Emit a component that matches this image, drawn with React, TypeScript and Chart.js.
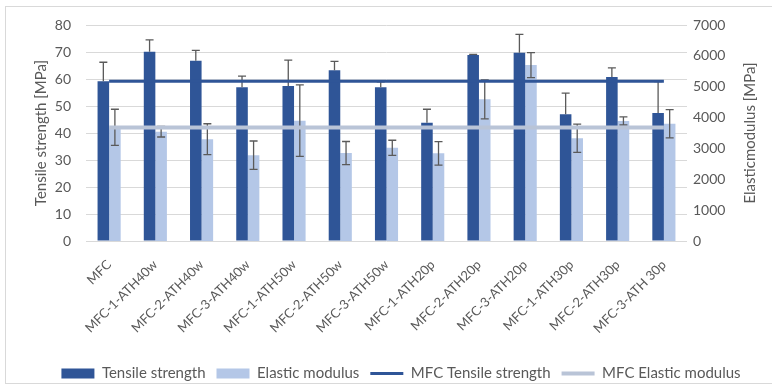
import React, { useEffect, useRef } from "react";
import { Chart, registerables } from "chart.js";

Chart.register(...registerables);

const categories = [
  "MFC",
  "MFC-1-ATH40w",
  "MFC-2-ATH40w",
  "MFC-3-ATH40w",
  "MFC-1-ATH50w",
  "MFC-2-ATH50w",
  "MFC-3-ATH50w",
  "MFC-1-ATH20p",
  "MFC-2-ATH20p",
  "MFC-3-ATH20p",
  "MFC-1-ATH30p",
  "MFC-2-ATH30p",
  "MFC-3-ATH 30p",
];

const tensileStrength = [59.2, 70.1, 66.8, 56.9, 57.4, 63.2, 56.9, 43.8, 68.9, 69.7, 46.9, 60.7, 47.4];
const tensileError = [7.0, 4.4, 3.8, 4.2, 9.6, 3.3, 2.0, 5.0, 0.2, 6.8, 7.9, 3.4, 11.6];

const elasticModulus = [3685, 3540, 3300, 2780, 3900, 2850, 3020, 2840, 4590, 5700, 3330, 3890, 3800];
const elasticError = [585, 170, 500, 460, 1160, 375, 245, 380, 630, 405, 460, 130, 460];

const mfcTensileLine = [59.2, 59.2, 59.2, 59.2, 59.2, 59.2, 59.2, 59.2, 59.2, 59.2, 59.2, 59.2, 59.2];
const mfcElasticLine = [3680, 3680, 3680, 3680, 3680, 3680, 3680, 3680, 3680, 3680, 3680, 3680, 3680];

const leftTicks = { min: 0, max: 80, step: 10 };
const rightTicks = { min: 0, max: 7000, step: 1000 };

const DARK = "#2F5597";
const LIGHT = "#B4C7E7";
const LIGHT_LINE = "#B9C4D7";
const TEXT = "#595959";
const GRID = "#D9D9D9";
const FONT = "Lato";

const errorBarPlugin = {
  id: "errorBars",
  afterDatasetDraw(chart: any, args: any) {
    const ds = chart.data.datasets[args.index];
    if (!ds.errors) return;
    const meta = args.meta;
    const scale = chart.scales[meta.yAxisID];
    const ctx = chart.ctx;
    ctx.save();
    ctx.strokeStyle = "#5A5A5A";
    ctx.lineWidth = 1.3;
    const cap = 4;
    meta.data.forEach((bar: any, i: number) => {
      const v = ds.data[i];
      const e = ds.errors[i];
      const x = bar.x;
      const yTop = scale.getPixelForValue(v + e);
      const yBot = ds.errorMode === "both" ? scale.getPixelForValue(v - e) : bar.y;
      ctx.beginPath();
      ctx.moveTo(x, yTop);
      ctx.lineTo(x, yBot);
      ctx.moveTo(x - cap, yTop);
      ctx.lineTo(x + cap, yTop);
      if (ds.errorMode === "both") {
        ctx.moveTo(x - cap, yBot);
        ctx.lineTo(x + cap, yBot);
      }
      ctx.stroke();
    });
    ctx.restore();
  },
};

const rightTitlePlugin = {
  id: "rightTitle",
  afterDraw(chart: any) {
    const { ctx, chartArea } = chart;
    ctx.save();
    ctx.font = `15px ${FONT}`;
    ctx.fillStyle = TEXT;
    ctx.textAlign = "center";
    ctx.textBaseline = "middle";
    ctx.translate(chartArea.right + 63, (chartArea.top + chartArea.bottom) / 2);
    ctx.rotate(-Math.PI / 2);
    ctx.fillText("Elasticmodulus [MPa]", 0, 0);
    ctx.restore();
  },
};

export default function App() {
  const ref = useRef<HTMLCanvasElement | null>(null);

  useEffect(() => {
    if (!ref.current) return;
    Chart.defaults.font.family = FONT;
    Chart.defaults.color = TEXT;
    const chart = new Chart(ref.current, {
      type: "bar",
      data: {
        labels: categories,
        datasets: [
          {
            type: "bar",
            label: "Tensile strength",
            data: tensileStrength,
            backgroundColor: DARK,
            yAxisID: "y",
            categoryPercentage: 0.5,
            barPercentage: 1.0,
            order: 2,
            errors: tensileError,
            errorMode: "plus",
          } as any,
          {
            type: "bar",
            label: "Elastic modulus",
            data: elasticModulus,
            backgroundColor: LIGHT,
            yAxisID: "y1",
            categoryPercentage: 0.5,
            barPercentage: 1.0,
            order: 2,
            errors: elasticError,
            errorMode: "both",
          } as any,
          {
            type: "line",
            label: "MFC Tensile strength",
            data: mfcTensileLine,
            borderColor: DARK,
            backgroundColor: DARK,
            borderWidth: 3,
            pointRadius: 0,
            yAxisID: "y",
            order: 1,
          } as any,
          {
            type: "line",
            label: "MFC Elastic modulus",
            data: mfcElasticLine,
            borderColor: LIGHT_LINE,
            backgroundColor: LIGHT_LINE,
            borderWidth: 4,
            pointRadius: 0,
            yAxisID: "y1",
            order: 1,
          } as any,
        ],
      },
      options: {
        responsive: false,
        animation: false,
        layout: { padding: { top: 25, left: 0, right: 0, bottom: 0 } },
        plugins: {
          tooltip: { enabled: false },
          legend: {
            position: "bottom",
            labels: {
              usePointStyle: true,
              pointStyleWidth: 33,
              boxHeight: 10,
              padding: 11,
              color: TEXT,
              font: { size: 15, family: FONT },
              sort: (a: any, b: any) => a.datasetIndex - b.datasetIndex,
              generateLabels: (chart: any) =>
                chart.data.datasets.map((ds: any, i: number) => ({
                  text: ds.label,
                  datasetIndex: i,
                  fillStyle: ds.type === "line" ? ds.borderColor : ds.backgroundColor,
                  strokeStyle: ds.type === "line" ? ds.borderColor : ds.backgroundColor,
                  lineWidth: ds.type === "line" ? ds.borderWidth : 0,
                  pointStyle: ds.type === "line" ? "line" : "rect",
                  fontColor: TEXT,
                  hidden: false,
                })),
            },
          },
        },
        scales: {
          x: {
            grid: { display: false, drawTicks: false },
            border: { display: false },
            ticks: {
              autoSkip: false,
              maxRotation: 45,
              minRotation: 45,
              padding: 16,
              color: TEXT,
              font: { size: 13, family: FONT },
            },
            afterFit: (s: any) => {
              s.height = 114;
            },
          },
          y: {
            position: "left",
            min: leftTicks.min,
            max: leftTicks.max,
            ticks: { stepSize: leftTicks.step, padding: 15, color: TEXT, font: { size: 14, family: FONT } },
            grid: { color: GRID, drawTicks: false, lineWidth: 1 },
            border: { display: false },
            title: {
              display: true,
              text: "Tensile strength [MPa]",
              color: TEXT,
              font: { size: 15, family: FONT },
              padding: { top: 32, bottom: 0 },
            },
            afterFit: (s: any) => {
              s.width = 86;
            },
          },
          y1: {
            position: "right",
            min: rightTicks.min,
            max: rightTicks.max,
            ticks: {
              stepSize: rightTicks.step,
              padding: 6,
              color: TEXT,
              font: { size: 14, family: FONT },
              callback: (v: any) => String(v),
            },
            grid: { display: false, drawTicks: false },
            border: { display: false },
            afterFit: (s: any) => {
              s.width = 115;
            },
          },
        },
      } as any,
      plugins: [errorBarPlugin, rightTitlePlugin],
    });
    return () => chart.destroy();
  }, []);

  return (
    <div
      style={{
        position: "fixed",
        left: 0,
        top: 0,
        width: 772,
        height: 385,
        overflow: "hidden",
        background: "#fff",
      }}
    >
      <div
        style={{
          position: "absolute",
          left: 5,
          top: 6,
          width: 820,
          height: 376,
          border: "1px solid #D9D9D9",
        }}
      />
      <canvas ref={ref} width={802} height={391} style={{ position: "absolute", left: 0, top: 0 }} />
    </div>
  );
}
